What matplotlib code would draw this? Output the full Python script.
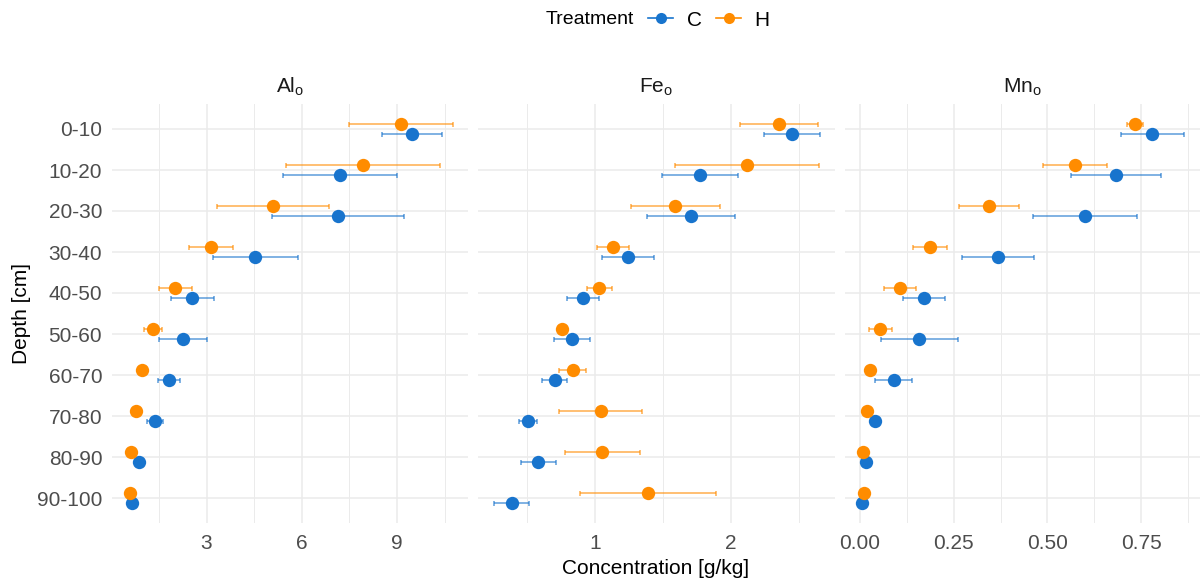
import matplotlib
matplotlib.use("Agg")
import matplotlib.pyplot as plt
from matplotlib.lines import Line2D
import numpy as np

plt.rcParams['font.family'] = 'Liberation Sans'
plt.rcParams['mathtext.fontset'] = 'custom'
plt.rcParams['mathtext.rm'] = 'Liberation Sans'
plt.rcParams['mathtext.it'] = 'Liberation Sans:italic'

# data
depths = ["0-10", "10-20", "20-30", "30-40", "40-50",
          "50-60", "60-70", "70-80", "80-90", "90-100"]
treatments = ["C", "H"]

al_c = [9.48, 7.21, 7.14, 4.54, 2.55, 2.26, 1.81, 1.38, 0.86, 0.65]
al_c_err = [0.95, 1.79, 2.08, 1.33, 0.67, 0.76, 0.35, 0.25, 0.06, 0.04]
al_h = [9.12, 7.93, 5.09, 3.15, 2.02, 1.31, 0.98, 0.79, 0.63, 0.60]
al_h_err = [1.64, 2.44, 1.77, 0.69, 0.51, 0.28, 0.05, 0.04, 0.03, 0.03]

fe_c = [2.446, 1.772, 1.706, 1.245, 0.914, 0.829, 0.706, 0.507, 0.583, 0.388]
fe_c_err = [0.206, 0.282, 0.324, 0.191, 0.118, 0.132, 0.092, 0.069, 0.127, 0.130]
fe_h = [2.353, 2.118, 1.590, 1.132, 1.032, 0.760, 0.836, 1.042, 1.054, 1.392]
fe_h_err = [0.284, 0.531, 0.327, 0.120, 0.094, 0.030, 0.099, 0.305, 0.276, 0.500]

mn_c = [0.780, 0.682, 0.601, 0.368, 0.171, 0.158, 0.090, 0.039, 0.016, 0.006]
mn_c_err = [0.085, 0.120, 0.139, 0.095, 0.057, 0.103, 0.050, 0.006, 0.004, 0.003]
mn_h = [0.733, 0.574, 0.344, 0.187, 0.107, 0.054, 0.027, 0.019, 0.009, 0.010]
mn_h_err = [0.022, 0.086, 0.080, 0.045, 0.042, 0.031, 0.005, 0.004, 0.003, 0.003]

colors = {"C": "#1874CD", "H": "#FF8C00"}
dodge = {"C": 0.13, "H": -0.13}

panels = [
    (r"Al$_\mathrm{o}$", {"C": (al_c, al_c_err), "H": (al_h, al_h_err)},
     (0.02, 11.24), [3, 6, 9], ["3", "6", "9"], [1.5, 4.5, 7.5, 10.5]),
    (r"Fe$_\mathrm{o}$", {"C": (fe_c, fe_c_err), "H": (fe_h, fe_h_err)},
     (0.14, 2.765), [1, 2], ["1", "2"], [0.5, 1.5, 2.5]),
    (r"Mn$_\mathrm{o}$", {"C": (mn_c, mn_c_err), "H": (mn_h, mn_h_err)},
     (-0.040, 0.907), [0, 0.25, 0.5, 0.75], ["0.00", "0.25", "0.50", "0.75"],
     [0.125, 0.375, 0.625, 0.875]),
]

W, H = 1200, 581
fig = plt.figure(figsize=(W / 100, H / 100), dpi=100)

lefts = [112, 478, 845]
widths = [356, 357, 355]
top_px, bot_px = 104.4, 522.6
grid_col = "#EBEBEB"
y = np.arange(len(depths))

for i, (title, series, xlim, ticks, labels, minor) in enumerate(panels):
    ax = fig.add_axes([lefts[i] / W, 1 - bot_px / H, widths[i] / W, (bot_px - top_px) / H])
    for s in ax.spines.values():
        s.set_visible(False)
    ax.set_xlim(*xlim)
    ax.set_ylim(len(depths) - 0.4, -0.6)
    ax.set_xticks(ticks)
    ax.set_xticklabels(labels)
    ax.set_xticks(minor, minor=True)
    ax.set_yticks(y)
    if i == 0:
        ax.set_yticklabels(depths)
    else:
        ax.set_yticklabels([])
    ax.grid(True, which="major", color=grid_col, lw=1.1)
    ax.grid(True, which="minor", axis="x", color=grid_col, lw=0.7)
    ax.set_axisbelow(True)
    ax.tick_params(which="both", length=0, labelsize=15, labelcolor="#4D4D4D")
    ax.tick_params(axis="x", pad=8)
    ax.tick_params(axis="y", pad=7)

    for t in treatments:
        vals, errs = series[t]
        ax.errorbar(vals, y + dodge[t], xerr=errs, fmt="none", ecolor=colors[t],
                    elinewidth=1.1, capsize=1.8, capthick=1.1, alpha=0.7, zorder=2)
    for t in treatments:
        vals, errs = series[t]
        ax.plot(vals, y + dodge[t], "o", color=colors[t], ms=9.6, mec="none", zorder=3)

    ax.text(0.5, 1 + (top_px - 87) / (bot_px - top_px), title, transform=ax.transAxes,
            ha="center", va="center", fontsize=15, color="#1A1A1A")

fig.text(656 / W, 1 - 568 / H, "Concentration [g/kg]", ha="center", va="center", fontsize=15)
fig.text(22 / W, 1 - 313 / H, "Depth [cm]", ha="center", va="center", rotation=90, fontsize=15)

# legend
fig.text(546 / W, 1 - 20 / H, "Treatment", ha="left", va="center", fontsize=14)
handles = [Line2D([], [], color=colors[t], marker="o", ms=8, lw=1.2, mec="none") for t in treatments]
fig.legend(handles, treatments, loc="center left", bbox_to_anchor=(648 / W, 1 - 20 / H),
           ncol=2, frameon=False, fontsize=15, handlelength=1.2, handletextpad=0.65,
           columnspacing=0.7, borderaxespad=0, borderpad=0)

fig.savefig("out.png", dpi=100)
